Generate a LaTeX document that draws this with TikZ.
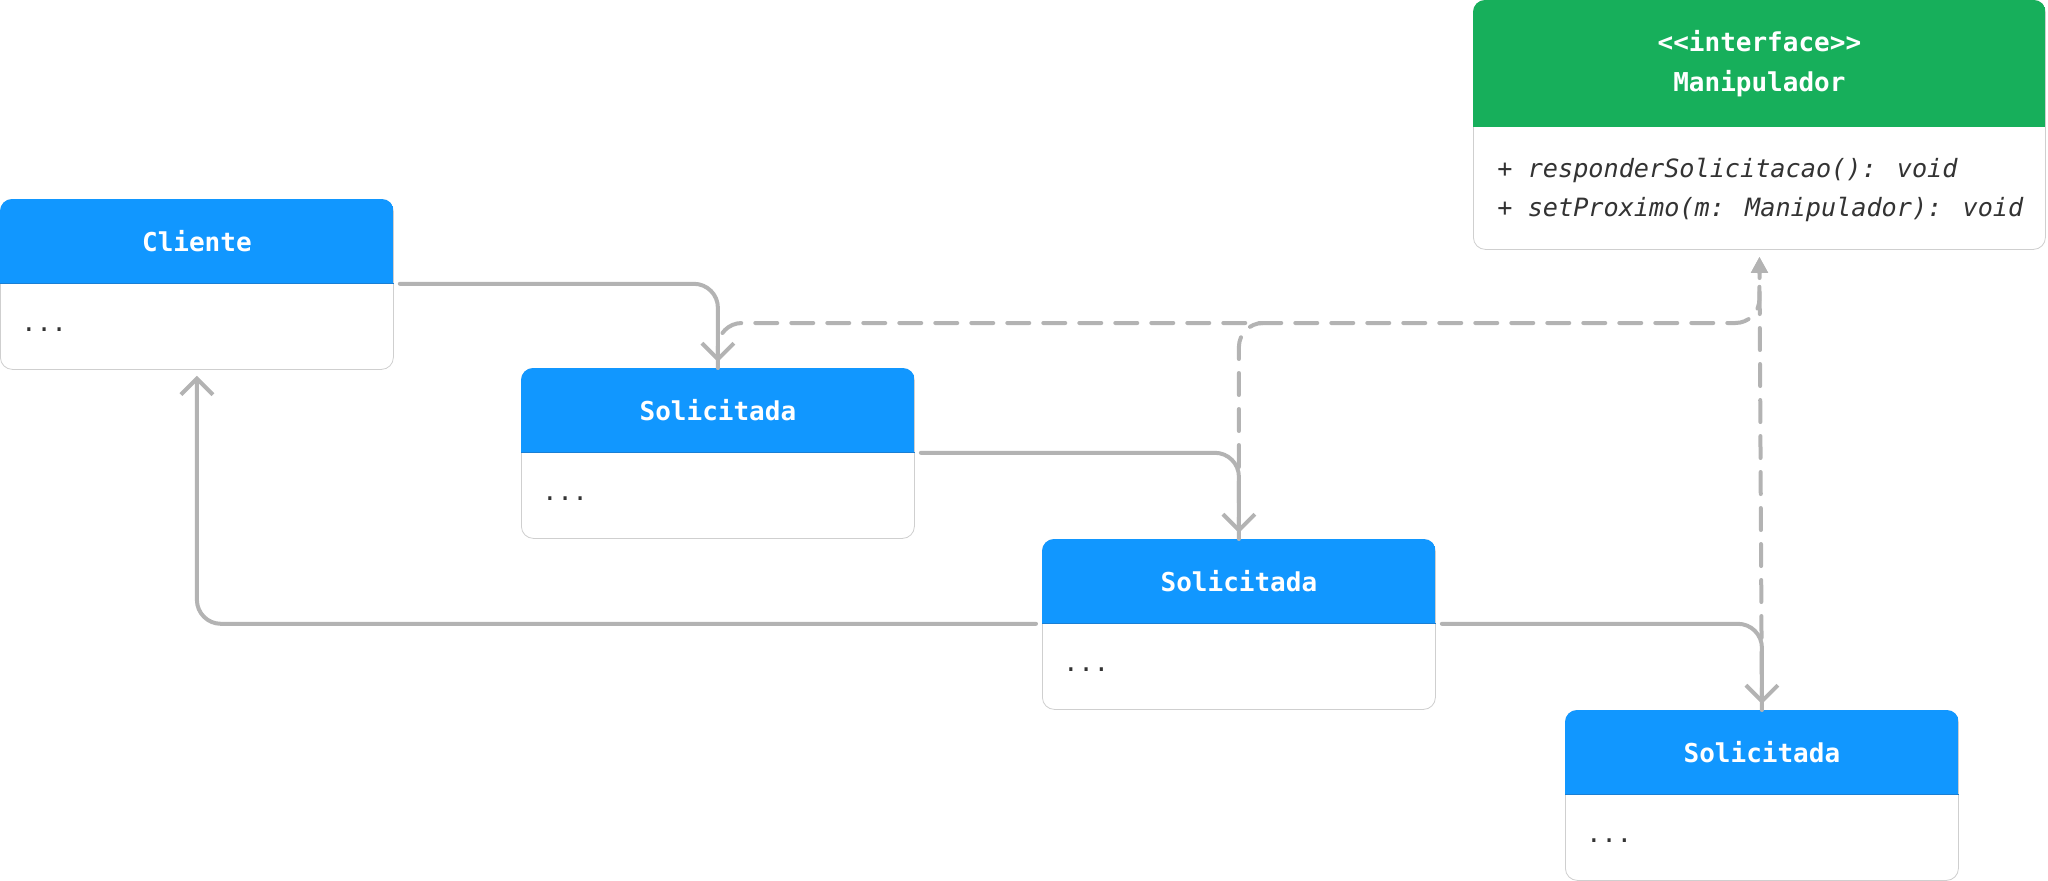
\documentclass[tikz,border=0pt]{standalone}
\usepackage{fontspec}
\newfontfamily\mono{DejaVu Sans Mono}
\usetikzlibrary{arrows.meta,calc}
\definecolor{hdblue}{HTML}{1197FF}
\definecolor{hdline}{HTML}{1A7FD4}
\definecolor{hdgreen}{HTML}{17AF5B}
\definecolor{wire}{HTML}{B3B3B3}
\definecolor{frame}{HTML}{CFCFCF}
\definecolor{ink}{HTML}{333333}

\tikzset{
  box/.style={draw=frame, fill=white, rounded corners=6pt, minimum width=196.5pt, minimum height=85pt, inner sep=0pt},
  head/.style={fill=hdblue, text=white, font=\mono\bfseries\fontsize{13}{20}\selectfont, minimum width=196.5pt, minimum height=42pt, inner sep=0pt},
  dots/.style={font=\mono\fontsize{12.6}{19.5}\selectfont, text=ink, inner sep=0pt},
  link/.style={draw=wire, line width=2pt, line cap=round, rounded corners=12pt, -{Straight Barb[length=8pt,width=16pt]}, shorten >=3pt, shorten <=3pt},
  impl/.style={draw=wire, line width=2pt, line cap=round, dash pattern=on 11pt off 7pt, rounded corners=12pt, -{Triangle[length=8pt,width=8pt]}, shorten >=3.5pt},
}

\begin{document}
\begin{tikzpicture}[x=0.5pt,y=-0.5pt]
  \useasboundingbox (0,0) rectangle (2048,880);

  % classes
  \foreach \n/\x/\y/\t in {cli/0/199/Cliente, s1/521/368/Solicitada, s2/1042/539/Solicitada, s3/1565/710/Solicitada}{
    \node[box, anchor=north west] (\n) at (\x,\y) {};
    \begin{scope}
      \clip[rounded corners=6pt] (\n.north west) rectangle (\n.south east);
      \node[head, anchor=north west] (\n-h) at (\n.north west) {\t};
    \end{scope}
    \draw[hdline] (\n-h.south west) -- (\n-h.south east);
    \node[dots, anchor=west] (\n-d) at ([xshift=10.5pt,yshift=-65.5pt]\n.north west) {...};
  }

  % interface
  \node[box, minimum width=286pt, minimum height=124.5pt, anchor=north west] (man) at (1473,0) {};
  \begin{scope}
    \clip[rounded corners=6pt] (man.north west) rectangle (man.south east);
    \node[head, fill=hdgreen, minimum width=286pt, minimum height=63.5pt, align=center, anchor=north west] (man-h) at (man.north west)
      {<\kern0pt<interface>\kern0pt>\\Manipulador};
  \end{scope}
  \node[dots, align=left, anchor=west] (man-m) at ([xshift=12pt,yshift=-94.75pt]man.north west)
    {\itshape + responderSolicitacao(): void\\\itshape + setProximo(m: Manipulador): void};

  % realizations
  \coordinate (bus) at (0,323);
  \draw[impl] (s1.north) -- (s1.north |- bus) -| (man.south);
  \draw[impl, -] (s2.north) |- ([xshift=15pt]s2.north |- bus);
  \draw[impl] (s3.north) -- (man.south);

  % chain
  \draw[link] (cli-h.south east) -| (s1.north);
  \draw[link] (s1-h.south east) -| (s2.north);
  \draw[link] (s2-h.south east) -| (s3.north);
  \draw[link] (s2-h.south west) -| (cli.south);
\end{tikzpicture}
\end{document}
